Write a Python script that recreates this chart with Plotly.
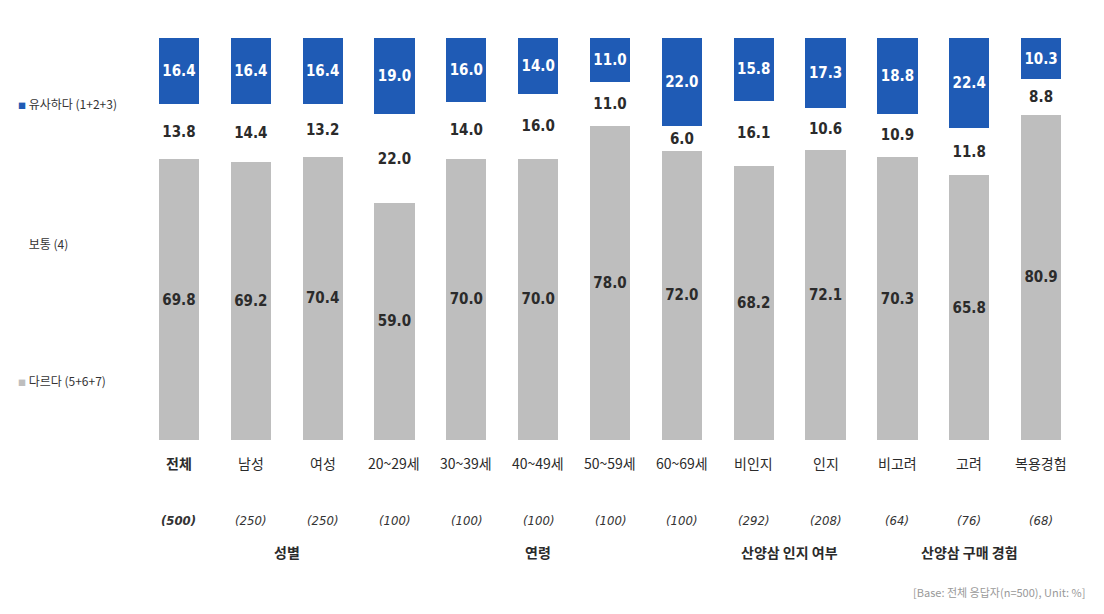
import plotly.graph_objects as go

categories = ["전체", "남성", "여성", "20~29세", "30~39세", "40~49세", "50~59세",
              "60~69세", "비인지", "인지", "비고려", "고려", "복용경험"]
sample_n = ["(500)", "(250)", "(250)", "(100)", "(100)", "(100)", "(100)",
            "(100)", "(292)", "(208)", "(64)", "(76)", "(68)"]
similar = [16.4, 16.4, 16.4, 19.0, 16.0, 14.0, 11.0, 22.0, 15.8, 17.3, 18.8, 22.4, 10.3]
neutral = [13.8, 14.4, 13.2, 22.0, 14.0, 16.0, 11.0, 6.0, 16.1, 10.6, 10.9, 11.8, 8.8]
different = [69.8, 69.2, 70.4, 59.0, 70.0, 70.0, 78.0, 72.0, 68.2, 72.1, 70.3, 65.8, 80.9]
group_labels = ["성별", "연령", "산양삼 인지 여부", "산양삼 구매 경험"]
group_centers = [1.5, 5, 8.5, 11]
legend_labels = ["유사하다 (1+2+3)", "보통 (4)", "다르다 (5+6+7)"]

BLUE = "#1F5BB5"
GREY = "#BEBEBE"
NUM_FONT = "Liberation Sans Narrow, Arial Narrow, DejaVu Sans Condensed, Liberation Sans, Noto Sans CJK KR"
KR_FONT = "Liberation Sans Narrow, Noto Sans CJK KR, sans-serif"

x = list(range(len(categories)))

fig = go.Figure()
fig.add_bar(x=x, y=different, marker=dict(color=GREY, line=dict(width=0)),
            text=[f"<b>{v:.1f}</b>" for v in different], textposition="inside",
            insidetextanchor="middle", textangle=0,
            textfont=dict(color="#2b2b2b", size=15, family=NUM_FONT), name=legend_labels[2])
fig.add_bar(x=x, y=neutral, marker=dict(color="rgba(255,255,255,0)", line=dict(width=0)),
            text=[f"<b>{v:.1f}</b>" for v in neutral], textposition="inside",
            insidetextanchor="middle", textangle=0,
            textfont=dict(color="#2b2b2b", size=15, family=NUM_FONT), name=legend_labels[1])
fig.add_bar(x=x, y=similar, marker=dict(color=BLUE, line=dict(width=0)),
            text=[f"<b>{v:.1f}</b>" for v in similar], textposition="inside",
            insidetextanchor="middle", textangle=0,
            textfont=dict(color="white", size=15, family=NUM_FONT), name=legend_labels[0])

fig.update_layout(
    barmode="stack", bargap=0.44, showlegend=False,
    width=1104, height=614,
    margin=dict(l=135, r=35, t=30, b=182),
    paper_bgcolor="white", plot_bgcolor="white",
    uniformtext=dict(minsize=8, mode="show"),
    xaxis=dict(range=[-0.5, len(categories) - 0.5], showticklabels=False, showgrid=False,
               zeroline=False, showline=False, ticks=""),
    yaxis=dict(range=[0, 100], showticklabels=False, showgrid=False, zeroline=False,
               showline=False, ticks=""),
)

ann = []
for i, (c, n) in enumerate(zip(categories, sample_n)):
    bold = i == 0
    ann.append(dict(x=i, y=0, xref="x", yref="paper", yshift=-23, yanchor="middle",
                    text=f"<b>{c}</b>" if bold else c, showarrow=False,
                    font=dict(size=14, color="#2b2b2b", family=KR_FONT)))
    ann.append(dict(x=i, y=0, xref="x", yref="paper", yshift=-80, yanchor="middle",
                    text=f"<b><i>{n}</i></b>" if bold else f"<i>{n}</i>", showarrow=False,
                    font=dict(size=13, color="#333333", family=NUM_FONT)))
for g, gc in zip(group_labels, group_centers):
    ann.append(dict(x=gc, y=0, xref="x", yref="paper", yshift=-112, yanchor="middle",
                    text=f"<b>{g}</b>", showarrow=False,
                    font=dict(size=14, color="#2b2b2b", family=KR_FONT)))

legend_y = [83.8, 49.0, 14.9]
legend_sq = [BLUE, None, GREY]
for lab, ly, sq in zip(legend_labels, legend_y, legend_sq):
    if sq:
        txt = f"<span style='color:{sq};font-size:8px'>■</span> {lab}"
    else:
        txt = f"<span style='color:white;font-size:8px'>■</span> {lab}"
    ann.append(dict(x=0, y=ly, xref="paper", yref="y", xshift=-127, xanchor="left",
                    yanchor="middle", text=txt, showarrow=False,
                    font=dict(size=12, color="#333333", family=KR_FONT)))

ann.append(dict(x=1, y=0, xref="paper", yref="paper", xshift=10, yshift=-152,
                xanchor="right", yanchor="middle",
                text="[Base: 전체 응답자(n=500), Unit: %]", showarrow=False,
                font=dict(size=11, color="#999999", family=KR_FONT)))

fig.update_layout(annotations=ann)
fig.write_html("out.html")
